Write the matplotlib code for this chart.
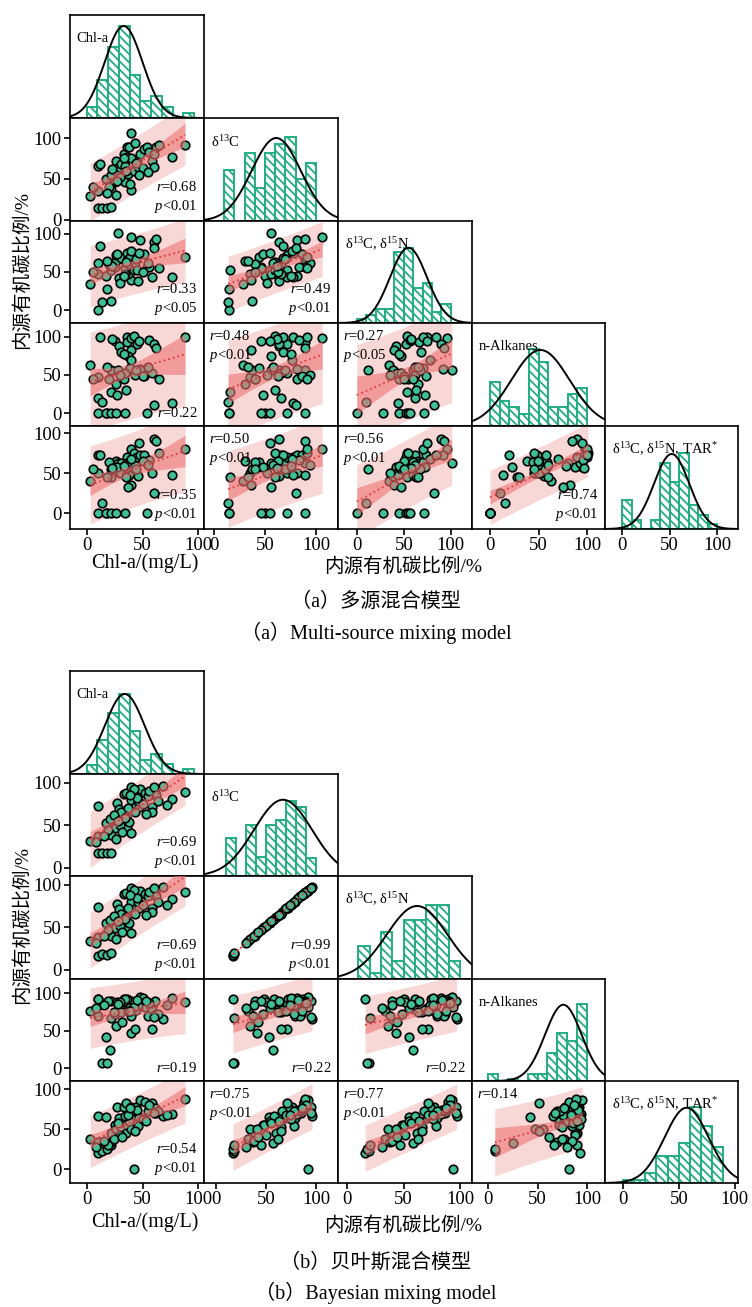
import matplotlib
matplotlib.use("Agg")
import matplotlib.pyplot as plt
import numpy as np

# fonts: Times-like serif for numbers, CJK fallback for Chinese text
plt.rcParams['font.family'] = ['Liberation Serif', 'Noto Sans CJK SC']
plt.rcParams['mathtext.fontset'] = 'custom'
plt.rcParams['mathtext.rm'] = 'Liberation Serif'
plt.rcParams['mathtext.it'] = 'Liberation Serif:italic'
plt.rcParams['hatch.linewidth'] = 1.3

# ---------------- data: (a) multi-source mixing model ----------------
a_chl = [3, 10, 10, 10, 14, 18, 22, 17, 22, 22, 25, 26, 28, 26, 29, 31, 33, 34, 36, 36, 38, 40, 40, 37, 39,
         42, 43, 45, 46, 48, 51, 54, 56, 58, 60, 62, 65, 76, 88, 40, 34, 30, 20, 12, 35, 27, 50, 44, 33, 55,
         23, 6, 18, 47, 60]
a_iso = [29, 35, 66, 15, 14, 15, 16, 50, 55, 37, 46, 30, 56, 72, 64, 68, 81, 46, 77, 89, 89, 106, 36, 56, 44,
         60, 94, 72, 64, 81, 86, 89, 83, 72, 64, 89, 91, 77, 91, 76, 66, 52, 40, 68, 60, 48, 63, 70, 75, 58,
         62, 40, 33, 55, 80]
a_iso2 = [34, 48, 62, 0, 10, 28, 53, 45, 52, 12, 57, 65, 101, 72, 42, 68, 45, 55, 75, 66, 60, 96, 40, 47, 70,
          53, 62, 52, 38, 92, 74, 57, 57, 43, 90, 93, 55, 44, 70, 78, 47, 35, 60, 84, 63, 73, 50, 67, 45, 62,
          58, 50, 65, 75, 82]
a_alk = [63, 47, 20, 0, 15, 0, 28, 0, 0, 57, 95, 38, 57, 0, 88, 80, 45, 0, 100, 93, 56, 98, 83, 75, 59,
         101, 50, 90, 56, 58, 48, 0, 96, 52, 90, 85, 45, 13, 100, 70, 53, 50, 44, 100, 30, 23, 49, 57, 78, 60,
         97, 45, 60, 95, 10]
a_tar = [40, 50, 72, 0, 12, 0, 45, 0, 0, 55, 58, 65, 62, 0, 57, 63, 50, 0, 70, 62, 48, 80, 35, 32, 64,
         75, 60, 70, 46, 72, 73, 0, 66, 50, 93, 90, 75, 47, 80, 67, 55, 50, 64, 73, 45, 58, 65, 55, 59, 60,
         56, 55, 45, 88, 25]

# histogram bar heights (first bin start, bin width, heights) and normal curve (mean, sd, peak)
a_hist_start = [0, 10, 0, 0, 0]
a_hist_width = [9.6, 10, 10, 10, 10]
a_hist_chl = [11, 38, 71, 92, 43, 17, 22, 11, 0, 5]
a_hist_iso = [51, 0, 68, 33, 68, 77, 84, 42, 58]
a_hist_iso2 = [4, 8, 14, 14, 72, 76, 35, 40, 11, 19]
a_hist_alk = [44, 25, 19, 12, 77, 64, 19, 19, 32, 38]
a_hist_tar = [29, 9, 0, 9, 66, 47, 76, 24, 14, 5]
a_curve_mu = [33, 61, 55, 52, 52]
a_curve_sd = [17, 24, 19.7, 30, 18.4]
a_curve_peak = [92, 83, 76, 76, 75]

a_r = {(1, 0): '0.68', (2, 0): '0.33', (2, 1): '0.49', (3, 0): '0.22', (3, 1): '0.48',
       (3, 2): '0.27', (4, 0): '0.35', (4, 1): '0.50', (4, 2): '0.56', (4, 3): '0.74'}
a_p = {(1, 0): '0.01', (2, 0): '0.05', (2, 1): '0.01', (3, 1): '0.01', (3, 2): '0.05',
       (4, 0): '0.01', (4, 1): '0.01', (4, 2): '0.01', (4, 3): '0.01'}
a_topleft = [(3, 1), (3, 2), (4, 1), (4, 2)]

# ---------------- data: (b) Bayesian mixing model ----------------
b_chl = [3, 10, 10, 10, 14, 18, 22, 17, 21, 25, 22, 26, 27, 29, 31, 33, 35, 40, 40, 35, 36, 40, 38, 44, 47,
         48, 52, 58, 58, 61, 62, 68, 76, 88, 55, 46, 43, 42, 34, 30, 24, 19, 15, 8, 50, 37, 45, 56, 64, 28,
         32, 39, 53, 60, 72]
b_iso = [32, 72, 37, 17, 18, 17, 18, 53, 57, 47, 39, 34, 76, 69, 65, 87, 88, 95, 79, 60, 48, 41, 54, 72, 71,
         92, 88, 71, 66, 89, 85, 96, 81, 89, 84, 78, 65, 92, 58, 50, 62, 45, 38, 30, 75, 70, 82, 90, 78, 55,
         42, 86, 63, 95, 74]
b_iso2 = [34, 74, 38, 16, 19, 18, 20, 55, 58, 49, 40, 36, 77, 71, 66, 89, 90, 96, 80, 62, 50, 43, 55, 73, 73,
          93, 89, 72, 68, 90, 87, 97, 83, 91, 86, 79, 66, 94, 60, 51, 63, 47, 40, 31, 76, 72, 84, 91, 80, 57,
          44, 88, 64, 96, 76]
b_alk = [77, 93, 70, 93, 7, 7, 67, 42, 25, 72, 90, 56, 88, 80, 75, 92, 85, 90, 70, 88, 92, 47, 80, 78, 84,
         95, 82, 52, 78, 90, 72, 66, 94, 89, 70, 85, 52, 82, 93, 88, 75, 90, 85, 80, 94, 76, 91, 87, 73, 86,
         62, 77, 90, 68, 84]
b_tar = [37, 66, 34, 20, 22, 25, 30, 65, 32, 55, 45, 50, 78, 64, 53, 78, 82, 78, 64, 45, 55, 50, 60, 78, 65,
         86, 84, 82, 72, 76, 70, 66, 69, 87, 72, 54, 47, 0, 66, 42, 38, 30, 35, 28, 62, 68, 74, 80, 73, 58,
         40, 76, 60, 70, 68]

b_hist_start = [0, 10, 10, 0, 0]
b_hist_width = [9.6, 10, 10, 10, 10]
b_hist_chl = [9, 34, 61, 80, 43, 14, 20, 10, 0, 5]
b_hist_iso = [38, 0, 51, 19, 51, 57, 76, 70, 18]
b_hist_iso2 = [33, 6, 47, 18, 59, 59, 74, 74, 18]
b_hist_alk = [7, 0, 2, 0, 7, 7, 28, 48, 40, 78]
b_hist_tar = [3, 3, 10, 27, 27, 40, 77, 58, 36]
b_curve_mu = [34, 67, 62, 76, 57]
b_curve_sd = [17.8, 29, 27, 18.5, 19.7]
b_curve_peak = [80, 77, 73, 77, 76]

b_r = {(1, 0): '0.69', (2, 0): '0.69', (2, 1): '0.99', (3, 0): '0.19', (3, 1): '0.22',
       (3, 2): '0.22', (4, 0): '0.54', (4, 1): '0.75', (4, 2): '0.77', (4, 3): '0.14'}
b_p = {(1, 0): '0.01', (2, 0): '0.01', (2, 1): '0.01', (4, 0): '0.01', (4, 1): '0.01', (4, 2): '0.01'}
b_topleft = [(4, 1), (4, 2), (4, 3)]

diag_titles = ['Chl-a', r'δ$^{13}$C', r'δ$^{13}$C, δ$^{15}$N', 'n-Alkanes', r'δ$^{13}$C, δ$^{15}$N, TAR$^{*}$']

# colours
GREEN = '#22ad80'
POINT = '#3fbf96'
PRED = '#f8d7d7'
CONF = '#ee7474'
LINE = '#e23b3b'

W, H = 752, 1307
fig = plt.figure(figsize=(W / 100, H / 100), dpi=100)

col_px = [70, 204, 338, 472, 605, 738]


def add_cell(x0, x1, y0, y1):
    return fig.add_axes([x0 / W, 1 - y1 / H, (x1 - x0) / W, (y1 - y0) / H])


def draw_block(rows_px, cols, hists, hist_start, hist_width, mu, sd, peak,
               xlims, ylims, rtxt, ptxt, topleft, ylab_y, xlab_y, caps, cap_y):
    n = 5
    for i in range(n):
        for j in range(i + 1):
            ax = add_cell(col_px[j], col_px[j + 1], rows_px[i], rows_px[i + 1])
            ax.set_xlim(xlims[j])
            if i == j:
                # histogram with fitted normal curve
                h = hists[i]
                left = hist_start[i] + hist_width[i] * np.arange(len(h))
                ax.bar(left, h, width=hist_width[i], align='edge', facecolor='white',
                       edgecolor=GREEN, hatch='\\\\\\\\', linewidth=1.4, zorder=2)
                xs = np.linspace(xlims[j][0], xlims[j][1], 300)
                ax.plot(xs, peak[i] * np.exp(-(xs - mu[i]) ** 2 / (2 * sd[i] ** 2)),
                        color='black', lw=1.4, zorder=3)
                ax.set_ylim(0, 103)
                ax.text(0.05, 0.77, diag_titles[i], transform=ax.transAxes, fontsize=10.5,
                        ha='left', va='center')
            else:
                x = np.array(cols[j], dtype=float)
                y = np.array(cols[i], dtype=float)
                m = len(x)
                b, a = np.polyfit(x, y, 1)
                s = np.sqrt(np.sum((y - (a + b * x)) ** 2) / (m - 2))
                xm = x.mean()
                sxx = np.sum((x - xm) ** 2)
                xs = np.linspace(x.min(), x.max(), 100)
                yl = a + b * xs
                ci = 2.0 * s * np.sqrt(1 / m + (xs - xm) ** 2 / sxx)
                pi = 2.0 * s * np.sqrt(1 + 1 / m + (xs - xm) ** 2 / sxx)
                ax.fill_between(xs, yl - pi, yl + pi, color=PRED, lw=0, zorder=1)
                ax.scatter(x, y, s=38, c=POINT, edgecolors='black', linewidths=1.2, zorder=3)
                ax.fill_between(xs, yl - ci, yl + ci, color=CONF, alpha=0.6, lw=0, zorder=4)
                ax.plot(xs, yl, color=LINE, ls=':', lw=1.3, zorder=5)
                ax.set_ylim(ylims[i])
                txt = r'$r$=' + rtxt[(i, j)]
                if (i, j) in ptxt:
                    txt += '\n' + r'$p$<' + ptxt[(i, j)]
                if (i, j) in topleft:
                    ax.text(0.04, 0.94, txt, transform=ax.transAxes, fontsize=10.5,
                            ha='left', va='top', linespacing=1.35, zorder=6)
                else:
                    ax.text(0.95, 0.06, txt, transform=ax.transAxes, fontsize=10.5,
                            ha='right', va='bottom', linespacing=1.35, zorder=6)
            # ticks only on the outer left column and bottom row
            if j == 0 and i > 0:
                ax.set_yticks([0, 50, 100])
            else:
                ax.set_yticks([])
            if i == n - 1:
                ax.set_xticks([0, 50, 100])
            else:
                ax.set_xticks([])
            ax.tick_params(direction='out', length=4, width=1.2, labelsize=13.5, pad=2)
            for sp in ax.spines.values():
                sp.set_linewidth(1.2)

    # axis labels and captions
    fig.text(22 / W, 1 - ylab_y / H, '内源有机碳比例/%', rotation=90, fontsize=14,
             ha='center', va='center')
    fig.text(145 / W, 1 - xlab_y / H, 'Chl-a/(mg/L)', fontsize=14.5, ha='center', va='center')
    fig.text(403 / W, 1 - (xlab_y + 4) / H, '内源有机碳比例/%', fontsize=14, ha='center', va='center')
    fig.text(376 / W, 1 - cap_y[0] / H, caps[0], fontsize=14.5, ha='center', va='center')
    fig.text(376 / W, 1 - cap_y[1] / H, caps[1], fontsize=14.5, ha='center', va='center')


# block (a)
draw_block([15, 118, 221, 323, 426, 529],
           [a_chl, a_iso, a_iso2, a_alk, a_tar],
           [a_hist_chl, a_hist_iso, a_hist_iso2, a_hist_alk, a_hist_tar],
           a_hist_start, a_hist_width, a_curve_mu, a_curve_sd, a_curve_peak,
           [(-15, 105), (-9.6, 121.4), (-20, 122.6), (-18.6, 118.6), (-17.8, 121.5)],
           [None, (-1.5, 124.5), (-17, 117), (-17, 118), (-20, 108.8)],
           a_r, a_p, a_topleft, 270, 563,
           ['（a）多源混合模型', '（a）Multi-source mixing model'], [602, 633])

# block (b)
draw_block([671, 774, 876, 979, 1081, 1183],
           [b_chl, b_iso, b_iso2, b_alk, b_tar],
           [b_hist_chl, b_hist_iso, b_hist_iso2, b_hist_alk, b_hist_tar],
           b_hist_start, b_hist_width, b_curve_mu, b_curve_sd, b_curve_peak,
           [(-15, 105), (-12, 122), (-8, 110.6), (-16, 118), (-16, 103)],
           [None, (-9.4, 110), (-10.6, 110), (-17, 119), (-17.5, 110)],
           b_r, b_p, b_topleft, 925, 1222,
           ['（b）贝叶斯混合模型', '（b）Bayesian mixing model'], [1263, 1293])

fig.savefig('out.png', dpi=100)
